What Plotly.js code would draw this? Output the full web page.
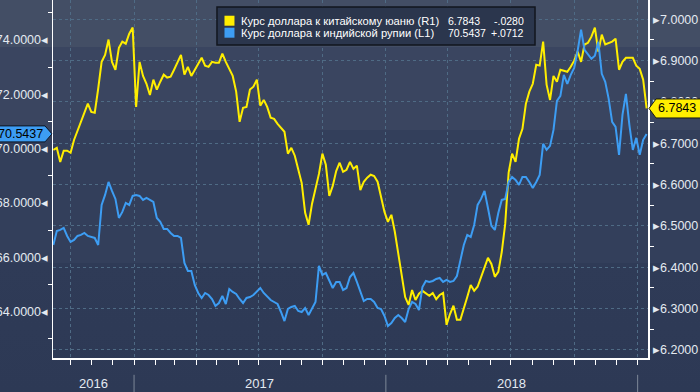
<!DOCTYPE html>
<html>
<head>
<meta charset="utf-8">
<script src="https://cdn.plot.ly/plotly-3.0.1.min.js"></script>
<style>
html,body{margin:0;padding:0;width:700px;height:392px;overflow:hidden;}
body{background:linear-gradient(to bottom,#434e65 0px,#434e65 47px,#3a4560 47px,#3a4560 130px,#333f5b 130px,#333f5b 263px,#2f3b57 263px,#2d3955 392px);}
#chart{width:700px;height:392px;}
</style>
</head>
<body>
<div id="chart"></div>
<script>
// ---- data ----
const seriesNames = ['Курс доллара к китайскому юаню (R1)', 'Курс доллара к индийской рупии (L1)'];
const seriesChanges = ['-.0280', '+.0712'];
const yearLabels = ['2016', '2017', '2018'];
const yearLabelDates = ['2016-11-03', '2017-07-02', '2018-07-02'];
const yearBreakDates = ['2017-01-01', '2018-01-01', '2019-01-01'];
const startDate = '2016-09-06';
const stepDays = 5;

// USD/CNY (right axis), one reading every 5 days
const cny = [
6.684,6.689,6.655,6.682,6.682,6.677,6.708,6.730,6.747,6.771,
6.796,6.776,6.774,6.832,6.897,6.914,6.951,6.897,6.878,6.931,
6.946,6.941,6.965,6.980,6.788,6.897,6.863,6.844,6.817,6.854,
6.830,6.849,6.866,6.859,6.861,6.878,6.897,6.914,6.866,6.885,
6.863,6.878,6.893,6.907,6.888,6.885,6.897,6.895,6.895,6.917,
6.897,6.878,6.863,6.825,6.752,6.786,6.788,6.830,6.837,6.854,
6.791,6.805,6.788,6.762,6.759,6.747,6.738,6.728,6.675,6.689,
6.670,6.636,6.604,6.532,6.503,6.554,6.587,6.626,6.675,6.648,
6.573,6.597,6.633,6.653,6.631,6.636,6.655,6.638,6.646,6.587,
6.607,6.617,6.624,6.621,6.607,6.568,6.534,6.510,6.527,6.486,
6.435,6.384,6.328,6.309,6.345,6.321,6.336,6.343,6.336,6.331,
6.338,6.323,6.333,6.338,6.261,6.287,6.307,6.273,6.273,6.299,
6.328,6.357,6.343,6.353,6.377,6.399,6.423,6.408,6.377,6.389,
6.437,6.505,6.629,6.675,6.655,6.711,6.735,6.796,6.825,6.844,
6.890,6.888,6.946,6.842,6.805,6.863,6.849,6.878,6.876,6.873,
6.885,6.900,6.922,6.897,6.939,6.943,6.958,6.980,6.922,6.963,
6.939,6.943,6.946,6.953,6.878,6.897,6.907,6.907,6.907,6.888,
6.880,6.854,6.7843
];

// USD/INR (left axis), same dates
const inr = [
66.457,66.972,67.009,67.083,66.788,66.567,66.641,66.788,66.825,66.899,
66.788,66.751,66.714,66.457,67.930,68.298,68.777,68.446,68.151,67.451,
67.672,68.004,67.930,68.261,68.298,68.261,68.114,68.188,68.114,68.040,
67.451,67.304,67.046,67.046,66.899,66.788,66.788,66.714,65.794,65.499,
65.499,64.983,64.689,64.505,64.689,64.615,64.468,64.210,64.320,64.578,
64.284,64.836,64.726,64.652,64.468,64.320,64.505,64.541,64.615,64.726,
64.873,64.689,64.541,64.431,64.357,64.284,63.989,63.657,64.099,64.173,
64.210,64.026,63.989,64.136,63.878,64.136,64.357,65.683,65.352,65.425,
65.131,64.873,65.094,65.094,64.799,64.873,65.278,65.425,65.094,64.762,
64.394,64.468,64.468,64.357,64.136,64.099,63.842,63.473,63.584,63.768,
63.878,63.768,63.621,64.099,64.357,64.284,64.063,64.910,65.131,65.094,
65.131,65.204,65.241,65.094,65.168,65.094,65.131,65.315,65.867,66.457,
66.825,66.751,67.193,67.930,68.151,68.446,67.819,67.157,67.009,67.635,
68.114,68.151,68.777,68.961,68.851,68.667,68.961,68.961,68.777,68.556,
68.777,69.035,70.177,69.956,70.103,70.692,71.761,71.945,72.718,72.387,
72.718,72.976,73.602,74.376,73.639,73.455,73.308,73.418,73.934,72.755,
72.460,71.834,70.987,70.803,69.772,71.245,72.018,70.877,69.956,70.398,
69.772,70.324,70.5437
];

// ---- build ----
const t0 = Date.parse(startDate + 'T00:00:00Z');
const dates = cny.map((_, i) => new Date(t0 + i * stepDays * 86400000).toISOString().slice(0, 10));
const cnyLast = cny[cny.length - 1];
const inrLast = inr[inr.length - 1];

const FONT = '"Liberation Sans", Arial, sans-serif';
const TXT = '#e4eaf1';
const GRID = '#4f6b85';
const YELLOW = '#ffee00';
const BLUE = '#3d9df3';

const traces = [
  {x: dates, y: cny, type: 'scatter', mode: 'lines', yaxis: 'y',
   line: {color: YELLOW, width: 2}, name: seriesNames[0], hoverinfo: 'skip'},
  {x: dates, y: inr, type: 'scatter', mode: 'lines', yaxis: 'y2',
   line: {color: BLUE, width: 2}, name: seriesNames[1], hoverinfo: 'skip'}
];

const shapes = [];
const annotations = [];

// legend box
shapes.push({type: 'rect', xref: 'paper', yref: 'paper', x0: 0.2756, x1: 0.8101, y0: 0.8743, y1: 0.9804,
  fillcolor: '#2b364d', line: {color: '#12161e', width: 1.5}, layer: 'above'});
// legend squares
shapes.push({type: 'rect', xref: 'paper', yref: 'paper', x0: 0.2882, x1: 0.3050, y0: 0.9282, y1: 0.9561,
  fillcolor: YELLOW, line: {width: 0}, layer: 'above'});
shapes.push({type: 'rect', xref: 'paper', yref: 'paper', x0: 0.2882, x1: 0.3050, y0: 0.8947, y1: 0.9226,
  fillcolor: BLUE, line: {width: 0}, layer: 'above'});
const rowY = [0.9427, 0.9078];
const lastVals = [cnyLast.toFixed(4), inrLast.toFixed(4)];
for (let i = 0; i < 2; i++) {
  annotations.push({xref: 'paper', yref: 'paper', x: 0.3131, y: rowY[i], xanchor: 'left', yanchor: 'middle',
    text: seriesNames[i], showarrow: false, font: {family: FONT, size: 11.2, color: '#ffffff'}});
  annotations.push({xref: 'paper', yref: 'paper', x: 0.6605, y: rowY[i], xanchor: 'left', yanchor: 'middle',
    text: lastVals[i], showarrow: false, font: {family: FONT, size: 10.5, color: '#ffffff'}});
  annotations.push({xref: 'paper', yref: 'paper', x: 0.7950, y: rowY[i], xanchor: 'right', yanchor: 'middle',
    text: seriesChanges[i], showarrow: false, font: {family: FONT, size: 10.5, color: '#ffffff'}});
}

// year separators & labels
yearBreakDates.forEach(d => shapes.push({type: 'line', xref: 'x', yref: 'paper', x0: d, x1: d, y0: -0.047, y1: -0.1,
  line: {color: '#7d8898', width: 1}}));
yearLabels.forEach((t, i) => annotations.push({xref: 'x', yref: 'paper', x: yearLabelDates[i], y: -0.0726,
  xanchor: 'center', yanchor: 'middle', text: t, showarrow: false, font: {family: FONT, size: 13, color: TXT}}));

// last-value tags
shapes.push({type: 'path', xref: 'paper', yref: 'y2', xsizemode: 'pixel', ysizemode: 'pixel', xanchor: 0, yanchor: inrLast,
  path: 'M -1 0 L -8 8 L -70 8 L -70 -8 L -8 -8 Z', fillcolor: BLUE, line: {color: '#0b1424', width: 1}, layer: 'above'});
annotations.push({xref: 'paper', yref: 'y2', x: 0, y: inrLast, xanchor: 'right', xshift: -8, yanchor: 'middle',
  text: inrLast.toFixed(4), showarrow: false, font: {family: FONT, size: 12.5, color: '#000000'}});
shapes.push({type: 'path', xref: 'paper', yref: 'y', xsizemode: 'pixel', ysizemode: 'pixel', xanchor: 1, yanchor: cnyLast,
  path: 'M 1 0 L 8 9.5 L 70 9.5 L 70 -9.5 L 8 -9.5 Z', fillcolor: YELLOW, line: {color: '#1a1a10', width: 1}, layer: 'above'});
annotations.push({xref: 'paper', yref: 'y', x: 1, y: cnyLast, xanchor: 'left', xshift: 8, yanchor: 'middle',
  text: cnyLast.toFixed(4), showarrow: false, font: {family: FONT, size: 12.5, color: '#000000'}});

const layout = {
  width: 700, height: 392,
  margin: {l: 53, r: 52, t: 0, b: 34, pad: 0},
  paper_bgcolor: 'rgba(0,0,0,0)', plot_bgcolor: 'rgba(0,0,0,0)',
  showlegend: false,
  font: {family: FONT, color: TXT, size: 12.5},
  xaxis: {
    type: 'date', range: ['2016-09-05 12:00', '2019-01-16'],
    showline: true, linecolor: '#ffffff', linewidth: 1.5,
    showgrid: true, gridcolor: GRID, gridwidth: 1, griddash: '3px,3px',
    dtick: 'M3', tick0: '2016-10-01',
    ticks: 'outside', ticklen: 5, tickcolor: '#ffffff', tickwidth: 1,
    showticklabels: false, zeroline: false, fixedrange: true,
    minor: {dtick: 'M1', tick0: '2016-10-01', ticks: 'outside', ticklen: 5, tickcolor: '#ffffff', tickwidth: 1, showgrid: false}
  },
  yaxis: {
    side: 'right', range: [6.1806, 7.0467],
    tick0: 6.2, dtick: 0.1, tickformat: '.4f', tickprefix: '\u25B8',
    ticks: 'outside', ticklen: 1, tickcolor: 'rgba(0,0,0,0)',
    tickfont: {family: FONT, size: 12.5, color: TXT},
    showline: true, linecolor: '#ffffff', linewidth: 1.5,
    showgrid: true, gridcolor: GRID, gridwidth: 1, griddash: '3px,3px',
    zeroline: false, fixedrange: true,
    minor: {tick0: 6.2, dtick: 0.05, ticks: 'outside', ticklen: 4, tickcolor: '#ffffff', tickwidth: 1, showgrid: false}
  },
  yaxis2: {
    overlaying: 'y', side: 'left', range: [62.296, 75.472],
    tick0: 64, dtick: 2, tickformat: '.4f', ticksuffix: '\u25C2',
    ticks: 'outside', ticklen: 1, tickcolor: 'rgba(0,0,0,0)',
    tickfont: {family: FONT, size: 12.5, color: TXT},
    showline: true, linecolor: '#ffffff', linewidth: 1.5,
    showgrid: false, zeroline: false, fixedrange: true,
    minor: {tick0: 64, dtick: 1, ticks: 'outside', ticklen: 4, tickcolor: '#ffffff', tickwidth: 1, showgrid: false}
  },
  shapes: shapes,
  annotations: annotations
};

Plotly.newPlot('chart', traces, layout, {staticPlot: true, displayModeBar: false});
</script>
</body>
</html>
